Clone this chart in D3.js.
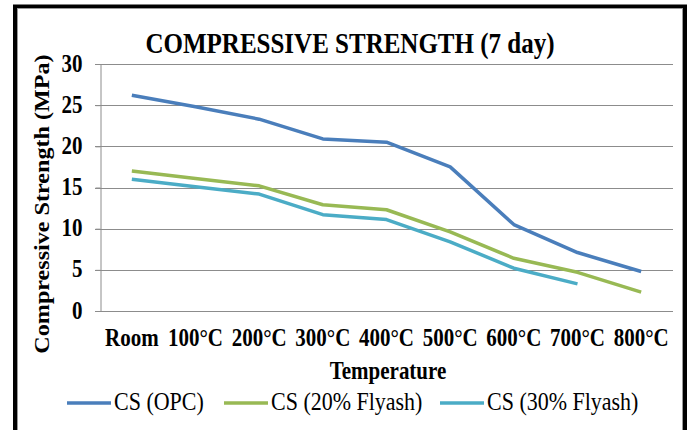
<!DOCTYPE html>
<html>
<head>
<meta charset="utf-8">
<script src="https://cdn.jsdelivr.net/npm/d3@7/dist/d3.min.js"></script>
<style>
  body { margin: 0; background: #fff; }
  svg text { font-family: "Liberation Serif", "Times New Roman", serif; }
</style>
</head>
<body>
<div id="chart"></div>
<script>
// categories + series
var temps = ['Room', '100°C', '200°C', '300°C', '400°C', '500°C', '600°C', '700°C', '800°C']
var csOPC = [26.2, 24.8, 23.3, 20.9, 20.5, 17.5, 10.5, 7.1, 4.8]
var cs20 = [17.0, 16.1, 15.2, 12.9, 12.3, 9.6, 6.4, 4.7, 2.3]
var cs30 = [16.0, 15.1, 14.2, 11.7, 11.1, 8.4, 5.2, 3.3]
var yTicks = [0, 5, 10, 15, 20, 25, 30]

var series = [
    {name: 'CS (OPC)', values: csOPC, color: '#4a7ebb'},
    {name: 'CS (20% Flyash)', values: cs20, color: '#98b954'},
    {name: 'CS (30% Flyash)', values: cs30, color: '#4bacc6'}
]

var width = 688, height = 430
var margin = {left: 100, right: 15, top: 64, bottom: 119}
// the original picture is stretched a bit vertically
var stretch = 1.15

var svg = d3.select('#chart')
    .append('svg')
    .attr('width', width)
    .attr('height', height)

// frame
svg.append('rect')
    .attr('x', 15).attr('y', 6.5)
    .attr('width', 670).attr('height', 440)
    .style('fill', 'none')
    .style('stroke', '#000')
    .style('stroke-width', 4)
svg.append('rect')
    .attr('x', 17.5).attr('y', 8.5)
    .attr('width', 665).attr('height', 440)
    .style('fill', 'none')
    .style('stroke', '#999')
    .style('stroke-width', 1)

var x = d3.scaleBand()
    .domain(temps)
    .range([margin.left, width - margin.right])
var y = d3.scaleLinear()
    .domain([0, 30])
    .range([height - margin.bottom, margin.top])

// gridlines
svg.append('g')
    .selectAll('line')
    .data(yTicks)
    .enter()
    .append('line')
    .attr('x1', margin.left - 5)
    .attr('x2', width - margin.right)
    .attr('y1', function(d) { return Math.round(y(d)) + 0.5 })
    .attr('y2', function(d) { return Math.round(y(d)) + 0.5 })
    .style('stroke', '#8c8c8c')
    .style('stroke-width', 1)

// y axis
var yAxis = svg.append('g')
    .attr('transform', 'translate(' + (margin.left + 0.5) + ',0)')
    .call(d3.axisLeft(y).tickValues(yTicks).tickSize(5).tickPadding(13))
yAxis.select('.domain').style('stroke', '#8c8c8c')
yAxis.selectAll('.tick line').style('stroke', '#8c8c8c')
yAxis.selectAll('text')
    .attr('dy', 0)
    .attr('transform', 'translate(0,7) scale(1,' + stretch + ')')
    .style('font-size', '21px')
    .style('font-weight', 'bold')
    .style('font-family', '"Liberation Serif", serif')
    .style('fill', '#000')

// x axis labels
var xAxis = svg.append('g')
    .attr('transform', 'translate(0,' + y(0) + ')')
    .call(d3.axisBottom(x).tickSize(0))
xAxis.select('.domain').remove()
xAxis.selectAll('text')
    .attr('y', 0).attr('dy', 0)
    .attr('transform', 'translate(0,35) scale(1,' + stretch + ')')
    .style('font-size', '21px')
    .style('font-weight', 'bold')
    .style('font-family', '"Liberation Serif", serif')
    .style('fill', '#000')

// titles
svg.append('text')
    .attr('transform', 'translate(350,53) scale(1,' + stretch + ')')
    .attr('text-anchor', 'middle')
    .style('font-size', '25px')
    .style('font-weight', 'bold')
    .text('COMPRESSIVE STRENGTH (7 day)')

svg.append('text')
    .attr('transform', 'translate(388,379) scale(1,' + stretch + ')')
    .attr('text-anchor', 'middle')
    .style('font-size', '21px')
    .style('font-weight', 'bold')
    .text('Temperature')

svg.append('text')
    .attr('transform', 'translate(49,204) rotate(-90) scale(' + stretch + ',1)')
    .attr('text-anchor', 'middle')
    .style('font-size', '21px')
    .style('font-weight', 'bold')
    .text('Compressive Strength (MPa)')

// lines
var line = d3.line()
    .x(function(d, i) { return x(temps[i]) + x.bandwidth() / 2 })
    .y(function(d) { return y(d) })

svg.append('g')
    .selectAll('path')
    .data(series)
    .enter()
    .append('path')
    .attr('d', function(d) { return line(d.values) })
    .style('fill', 'none')
    .style('stroke', function(d) { return d.color })
    .style('stroke-width', 3.5)
    .style('stroke-linejoin', 'round')

// legend
var legendX = [67, 224, 440]
var leg = svg.append('g')
    .selectAll('g')
    .data(series)
    .enter()
    .append('g')
    .attr('transform', function(d, i) { return 'translate(' + legendX[i] + ',403)' })
leg.append('line')
    .attr('x1', 0).attr('x2', 44)
    .style('stroke', function(d) { return d.color })
    .style('stroke-width', 3.5)
leg.append('text')
    .attr('x', 47)
    .attr('transform', 'translate(0,7) scale(1,' + stretch + ')')
    .style('font-size', '22px')
    .text(function(d) { return d.name })
</script>
</body>
</html>
